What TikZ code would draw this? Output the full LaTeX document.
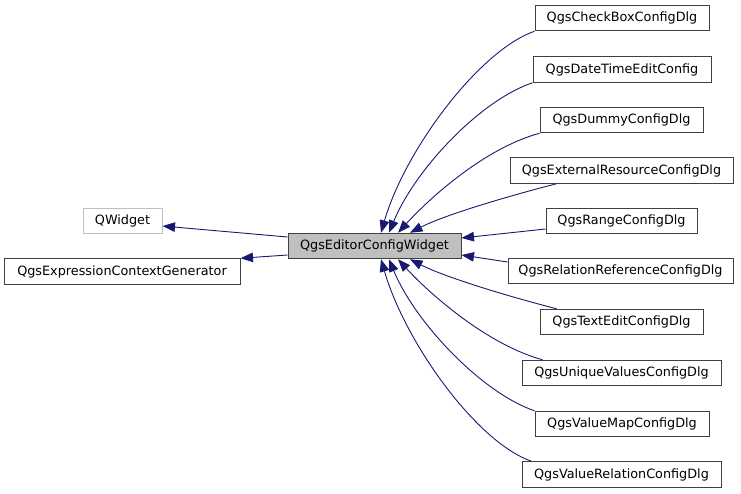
\documentclass[tikz,border=0pt]{standalone}
\usepackage{fontspec}
\setmainfont{DejaVu Sans}
\usepackage{tikz}
\usetikzlibrary{arrows.meta}
\definecolor{inhblue}{RGB}{25,25,112}
\definecolor{boxgray}{RGB}{64,64,64}
\definecolor{lightgray}{RGB}{191,191,191}

\tikzset{
    cls/.style={draw=boxgray, line width=1pt, minimum height=25.5pt, inner sep=0pt,
        font=\fontsize{12.8}{15}\selectfont},
    inh/.style={draw=inhblue, line width=0.9pt, -{Triangle[length=12.5pt,width=9.5pt]}, color=inhblue}
}

\begin{document}
\begin{tikzpicture}[x=1pt, y=-1pt]
    \useasboundingbox (0,0) rectangle (741,493);

    % Classe de base et parents
    \node[cls, fill=lightgray, minimum width=173pt] (editor) at (374.5,246) {QgsEditorConfigWidget};
    \node[cls, draw=lightgray, minimum width=79pt] (qwidget) at (122.5,221) {QWidget};
    \node[cls, minimum width=236pt] (exprctx) at (122,271.5) {QgsExpressionContextGenerator};

    % Classes derivees
    \node[cls, minimum width=174pt] (checkbox) at (622,18) {QgsCheckBoxConfigDlg};
    \node[cls, minimum width=178pt] (datetime) at (622,69.5) {QgsDateTimeEditConfig};
    \node[cls, minimum width=163pt] (dummy) at (621.5,120) {QgsDummyConfigDlg};
    \node[cls, minimum width=223pt] (external) at (621.5,170.5) {QgsExternalResourceConfigDlg};
    \node[cls, minimum width=151pt] (range) at (621.5,221) {QgsRangeConfigDlg};
    \node[cls, minimum width=225pt] (relref) at (620.5,271) {QgsRelationReferenceConfigDlg};
    \node[cls, minimum width=163pt] (textedit) at (621.5,322) {QgsTextEditConfigDlg};
    \node[cls, minimum width=199pt] (unique) at (621.5,373) {QgsUniqueValuesConfigDlg};
    \node[cls, minimum width=174pt] (valuemap) at (622,424) {QgsValueMapConfigDlg};
    \node[cls, minimum width=199pt] (valuerel) at (621.5,474.5) {QgsValueRelationConfigDlg};

    % Heritage vers les parents
    \draw[inh] ([yshift=9pt]editor.west) -- ([yshift=-5pt]qwidget.east);
    \draw[inh] ([yshift=-9pt]editor.west) -- (exprctx.north east);

    % Heritage depuis les classes derivees
    \draw[inh] (checkbox.south west) .. controls +(-55,19) and +(24,-83) .. ([xshift=6.5pt]editor.north);
    \draw[inh] (datetime.south west) .. controls +(-53,18) and +(26,-63) .. ([xshift=14.5pt]editor.north);
    \draw[inh] (dummy.south west) .. controls +(-55,15) and +(32,-35) .. ([xshift=23.5pt]editor.north);
    \draw[inh] ([xshift=47pt]external.south west) .. controls +(-47,12) and +(35,-18) .. ([xshift=35.5pt]editor.north);
    \draw[inh] ([yshift=-8pt]range.west) -- ([yshift=8pt]editor.east);
    \draw[inh] ([yshift=9pt]relref.west) -- ([yshift=-9pt]editor.east);
    \draw[inh] ([xshift=17pt]textedit.north west) .. controls +(-47,-12) and +(35,18) .. ([xshift=35.5pt]editor.south);
    \draw[inh] ([xshift=21pt]unique.north west) .. controls +(-55,-15) and +(32,35) .. ([xshift=23.5pt]editor.south);
    \draw[inh] (valuemap.north west) .. controls +(-53,-18) and +(26,63) .. ([xshift=14.5pt]editor.south);
    \draw[inh] ([xshift=10pt]valuerel.north west) .. controls +(-55,-19) and +(24,83) .. ([xshift=6.5pt]editor.south);
\end{tikzpicture}
\end{document}
